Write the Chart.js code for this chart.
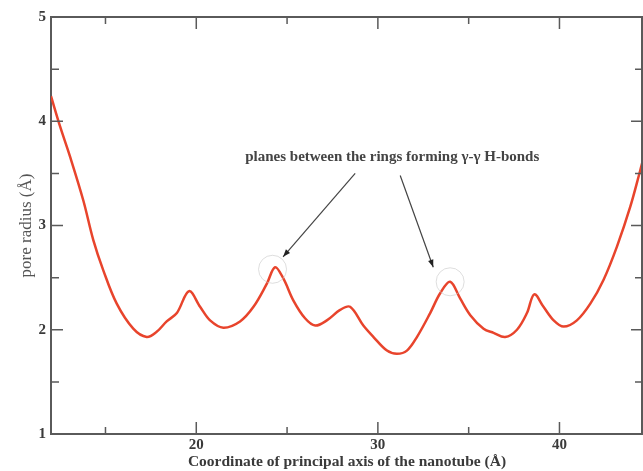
<!DOCTYPE html>
<html>
<head>
<meta charset="utf-8">
<script src="https://cdn.jsdelivr.net/npm/chart.js@4.4.1/dist/chart.umd.min.js"></script>
<style>
  html, body { margin: 0; padding: 0; background: #fff; }
  #wrap { width: 643px; height: 471px; }
</style>
</head>
<body>
<div id="wrap"><canvas id="c"></canvas></div>
<script>
// pore radius along the nanotube axis
const axisPos = [12.0, 12.5, 13.05, 13.78, 14.33, 14.88, 15.62, 16.53, 17.27, 17.82, 18.37, 18.93, 19.6,
  20.21, 20.76, 21.49, 22.41, 23.15, 23.88, 24.34, 24.8, 25.35, 25.99, 26.55, 27.19, 27.92, 28.47,
  29.2, 29.76, 30.5, 31.05, 31.6, 32.15, 32.88, 33.43, 33.98, 34.53, 35.09, 35.82, 36.37, 37.01,
  37.66, 38.21, 38.61, 39.12, 39.68, 40.23, 40.96, 41.7, 42.43, 43.17, 43.9, 44.45, 44.6];
const poreRadius = [4.24, 3.95, 3.66, 3.24, 2.86, 2.57, 2.25, 2.01, 1.93, 1.98, 2.08, 2.16, 2.37,
  2.22, 2.09, 2.02, 2.08, 2.22, 2.44, 2.60, 2.49, 2.28, 2.11, 2.04, 2.09, 2.19, 2.22,
  2.04, 1.93, 1.80, 1.77, 1.80, 1.93, 2.16, 2.35, 2.46, 2.30, 2.14, 2.01, 1.97, 1.93,
  2.00, 2.16, 2.34, 2.22, 2.09, 2.03, 2.09, 2.25, 2.48, 2.80, 3.18, 3.53, 3.63];

const xTicks = [15, 20, 25, 30, 35, 40];
const xLabels = [20, 30, 40];
const yTicks = [1, 1.5, 2, 2.5, 3, 3.5, 4, 4.5, 5];
const yLabels = [1, 2, 3, 4, 5];

const noteText = 'planes between the rings forming \u03b3-\u03b3 H-bonds';
const notePos = { x: 30.79, y: 3.66 };
const arrows = [
  { from: { x: 28.75, y: 3.50 }, to: { x: 24.78, y: 2.70 } },
  { from: { x: 31.23, y: 3.48 }, to: { x: 33.05, y: 2.60 } }
];
const peakMarks = [{ x: 24.2, y: 2.58 }, { x: 33.98, y: 2.46 }];

const serif = '"Liberation Serif", "Times New Roman", serif';
const frameColor = '#5a5a5a';

const pts = axisPos.map((x, i) => ({ x: x, y: poreRadius[i] }));

// frame, inward ticks and the annotation
const frame = {
  id: 'frame',
  afterDraw(chart) {
    const { ctx, chartArea: a, scales } = chart;
    const xs = scales.x, ys = scales.y;
    ctx.save();
    ctx.strokeStyle = frameColor;
    ctx.lineWidth = 2;
    ctx.beginPath();
    ctx.moveTo(a.left, a.top); ctx.lineTo(a.right, a.top);
    ctx.moveTo(a.right - 1, a.top); ctx.lineTo(a.right - 1, a.bottom);
    ctx.stroke();

    ctx.lineWidth = 1.5;
    ctx.beginPath();
    xTicks.forEach(v => {
      const px = xs.getPixelForValue(v);
      const len = v % 10 === 0 ? 12 : 7;
      ctx.moveTo(px, a.bottom); ctx.lineTo(px, a.bottom - len);
      ctx.moveTo(px, a.top); ctx.lineTo(px, a.top + len);
    });
    yTicks.forEach(v => {
      if (v === 1 || v === 5) return;
      const py = ys.getPixelForValue(v);
      const len = Number.isInteger(v) ? 12 : 8;
      ctx.moveTo(a.left, py); ctx.lineTo(a.left + len, py);
      ctx.moveTo(a.right, py); ctx.lineTo(a.right - len, py);
    });
    ctx.stroke();

    // faint circles round the two peaks
    ctx.strokeStyle = 'rgba(200,200,200,0.6)';
    ctx.lineWidth = 1;
    peakMarks.forEach(p => {
      ctx.beginPath();
      ctx.arc(xs.getPixelForValue(p.x), ys.getPixelForValue(p.y), 14, 0, Math.PI * 2);
      ctx.stroke();
    });

    // note text
    ctx.fillStyle = '#444';
    ctx.font = 'bold 15px ' + serif;
    ctx.textAlign = 'center';
    ctx.textBaseline = 'middle';
    ctx.fillText(noteText, xs.getPixelForValue(notePos.x), ys.getPixelForValue(notePos.y));

    // arrows
    ctx.strokeStyle = '#444';
    ctx.fillStyle = '#222';
    ctx.lineWidth = 1.2;
    arrows.forEach(ar => {
      const x1 = xs.getPixelForValue(ar.from.x), y1 = ys.getPixelForValue(ar.from.y);
      const x2 = xs.getPixelForValue(ar.to.x), y2 = ys.getPixelForValue(ar.to.y);
      ctx.beginPath();
      ctx.moveTo(x1, y1); ctx.lineTo(x2, y2);
      ctx.stroke();
      const ang = Math.atan2(y2 - y1, x2 - x1);
      ctx.beginPath();
      ctx.moveTo(x2, y2);
      ctx.lineTo(x2 - 8 * Math.cos(ang - 0.35), y2 - 8 * Math.sin(ang - 0.35));
      ctx.lineTo(x2 - 8 * Math.cos(ang + 0.35), y2 - 8 * Math.sin(ang + 0.35));
      ctx.closePath();
      ctx.fill();
    });
    ctx.restore();
  }
};

new Chart(document.getElementById('c'), {
  type: 'scatter',
  data: {
    datasets: [{
      data: pts,
      showLine: true,
      borderColor: '#e8442c',
      borderWidth: 2.5,
      pointRadius: 0,
      tension: 0.35,
      fill: false
    }]
  },
  options: {
    responsive: true,
    maintainAspectRatio: false,
    animation: false,
    layout: { padding: { top: 17, right: 0, left: 0, bottom: 0 } },
    plugins: { legend: { display: false }, tooltip: { enabled: false } },
    scales: {
      x: {
        type: 'linear',
        min: 12,
        max: 44.6,
        afterBuildTicks: s => { s.ticks = xTicks.map(v => ({ value: v })); },
        afterFit: s => { s.height = 37; },
        grid: { display: false, drawTicks: false },
        border: { display: true, color: frameColor, width: 2 },
        ticks: {
          autoSkip: false,
          maxRotation: 0,
          padding: 2,
          color: '#3a3a3a',
          font: { family: serif, size: 15, weight: 'bold' },
          callback: v => xLabels.includes(v) ? String(v) : ''
        },
        title: {
          display: true,
          text: 'Coordinate of principal axis of the nanotube (\u00c5)',
          color: '#3a3a3a',
          font: { family: serif, size: 15.5, weight: 'bold' },
          padding: { top: 0, bottom: 0 }
        }
      },
      y: {
        min: 1,
        max: 5,
        afterBuildTicks: s => { s.ticks = yTicks.map(v => ({ value: v })); },
        afterFit: s => { s.width = 51; },
        grid: { display: false, drawTicks: false },
        border: { display: true, color: frameColor, width: 2 },
        ticks: {
          autoSkip: false,
          padding: 5,
          color: '#3a3a3a',
          font: { family: serif, size: 15, weight: 'bold' },
          callback: v => yLabels.includes(v) ? String(v) : ''
        },
        title: {
          display: true,
          text: 'pore radius (\u00c5)',
          color: '#555',
          font: { family: serif, size: 17 },
          padding: { top: 16, bottom: 0 }
        }
      }
    }
  },
  plugins: [frame]
});
</script>
</body>
</html>
